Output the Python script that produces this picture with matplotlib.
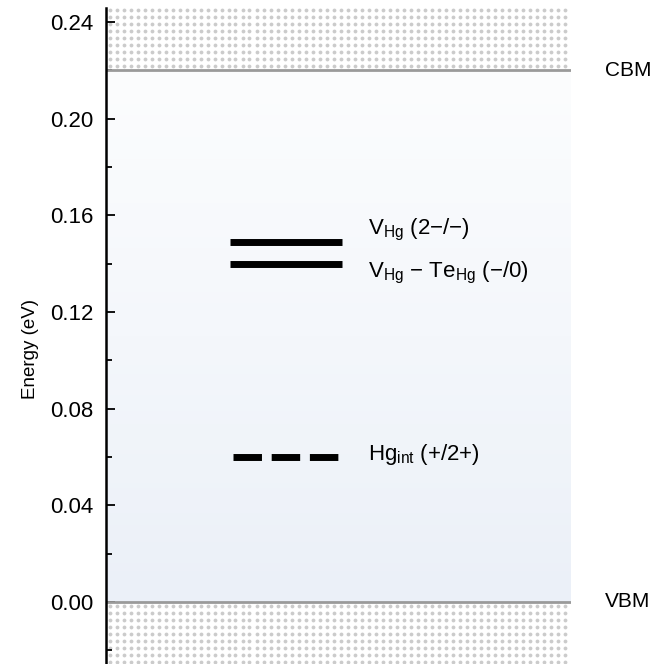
import numpy as np
import matplotlib
matplotlib.use("Agg")
import matplotlib.pyplot as plt
from matplotlib.colors import LinearSegmentedColormap

plt.rcParams['font.family'] = ['Liberation Sans', 'DejaVu Sans']

# Data
cbm = 0.22
vbm = 0.0
level_names = [r'$\mathregular{V_{Hg}}$ (2−/−)', r'$\mathregular{V_{Hg}}$ − $\mathregular{Te_{Hg}}$ (−/0)', r'$\mathregular{Hg_{int}}$ (+/2+)']
level_energies = [0.149, 0.140, 0.060]
level_styles = ['solid', 'solid', 'dashed']
label_baselines = [0.1519, 0.1345, 0.0588]
yticks = [0.00, 0.04, 0.08, 0.12, 0.16, 0.20, 0.24]
ytick_labels = ['0.00', '0.04', '0.08', '0.12', '0.16', '0.20', '0.24']

W, H = 652, 664
fig = plt.figure(figsize=(W/100, H/100), dpi=100)
ax_left, ax_right, ax_top = 106, 571, 8
ax = fig.add_axes([ax_left/W, 0.0, (ax_right-ax_left)/W, 1 - ax_top/H])
ymin, ymax = -0.0257, 0.2458
ax.set_xlim(0, 1)
ax.set_ylim(ymin, ymax)

# gradient background in gap
cmap = LinearSegmentedColormap.from_list('g', ['#ebf0f8', '#f4f7fb', '#fcfdfe'])
grad = np.linspace(0, 1, 256).reshape(-1, 1)
ax.imshow(grad, extent=[0, 1, vbm, cbm], origin='lower', aspect='auto', cmap=cmap, zorder=0)

# dotted band texture (decoration)
px_x = 1.0 / (ax_right - ax_left)
px_y = (ymax - ymin) / (H - ax_top)
step = 7.0
gx = np.arange(0.5*step*px_x, 1, step*px_x)
gy_top = np.arange(cbm + 0.6*step*px_y, ymax, step*px_y)
gy_bot = np.arange(vbm - 0.6*step*px_y, ymin, -step*px_y)
for gy in (gy_top, gy_bot):
    X, Y = np.meshgrid(gx, gy)
    ax.scatter(X.ravel(), Y.ravel(), s=7.5, color='#cbcbcb', linewidths=0, zorder=0.5, clip_on=True)

ax.axhline(cbm, color='#9a9a9a', lw=2, zorder=2)
ax.axhline(vbm, color='#9a9a9a', lw=2, zorder=2)

# levels
xs = [(0.267, 0.508), (0.267, 0.508), (0.274, 0.499)]
for (x0, x1), e, st in zip(xs, level_energies, level_styles):
    if st == 'solid':
        ax.plot([x0, x1], [e, e], color='black', lw=5, solid_capstyle='butt', zorder=3)
    else:
        ax.plot([x0, x1], [e, e], color='black', lw=5, dashes=(4.1, 1.4), dash_capstyle='butt', zorder=3)

for name, e in zip(level_names, label_baselines):
    ax.text(0.563, e, name, fontsize=16, va='baseline', ha='left', zorder=4)

ax.text(1.073, cbm, 'CBM', fontsize=15, va='center', ha='left', transform=ax.get_yaxis_transform())
ax.text(1.073, vbm, 'VBM', fontsize=15, va='center', ha='left', transform=ax.get_yaxis_transform())

for s in ['top', 'right', 'bottom']:
    ax.spines[s].set_visible(False)
ax.spines['left'].set_linewidth(1.8)
ax.set_xticks([])
ax.set_yticks(yticks)
ax.set_yticklabels(ytick_labels, fontsize=16)
ax.set_yticks(np.arange(-0.02, 0.241, 0.04), minor=True)
ax.tick_params(axis='y', which='major', direction='in', length=6.5, width=1.3, pad=9)
ax.tick_params(axis='y', which='minor', direction='in', length=4, width=1.3)
ax.set_ylabel('Energy (eV)', fontsize=13.5)
ax.yaxis.set_label_coords(-0.145, 0.48)

fig.savefig('out.png', dpi=100)
